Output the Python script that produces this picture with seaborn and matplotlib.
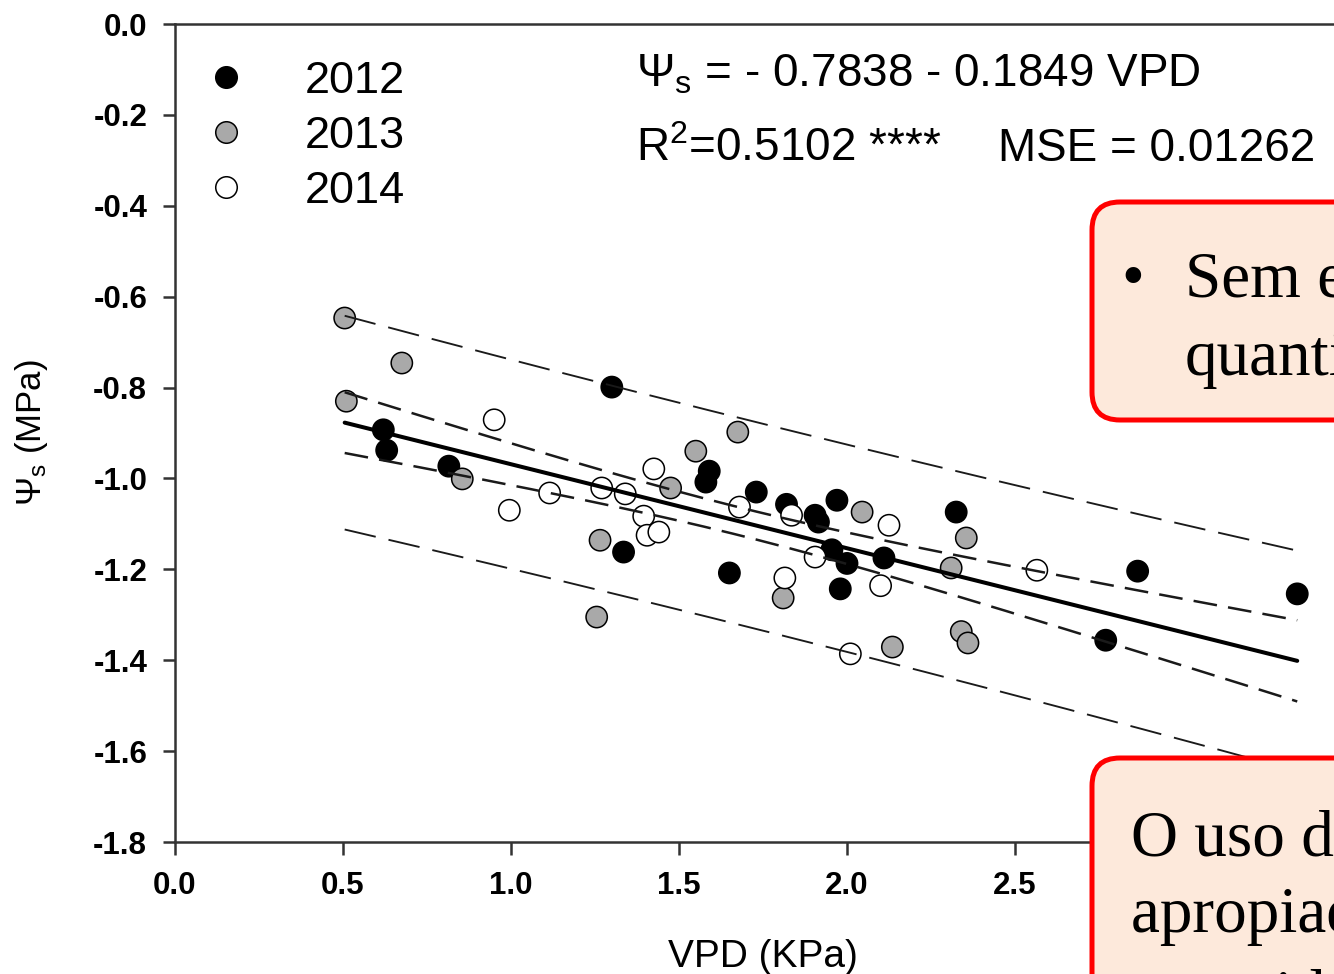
import numpy as np
import pandas as pd
import seaborn as sns
import matplotlib
matplotlib.use("Agg")
import matplotlib.pyplot as plt
from matplotlib.patches import FancyBboxPatch
from matplotlib.lines import Line2D

# Solute potential (MPa) versus vapour pressure deficit (KPa), by year
vpd_2012 = [0.62, 0.63, 0.815, 1.30, 1.335, 1.59, 1.58, 1.65, 1.73, 1.82, 1.97,
            1.905, 1.915, 1.955, 1.98, 2.00, 2.11, 2.325, 2.77, 2.865, 3.34]
psi_2012 = [-0.893, -0.938, -0.973, -0.799, -1.162, -0.984, -1.008, -1.208, -1.030,
            -1.057, -1.048, -1.081, -1.096, -1.157, -1.243, -1.187, -1.175, -1.074,
            -1.356, -1.204, -1.254]

vpd_2013 = [0.505, 0.675, 0.51, 0.855, 1.265, 1.255, 1.55, 1.475, 1.675, 1.81,
            2.045, 2.135, 2.31, 2.355, 2.34, 2.36]
psi_2013 = [-0.647, -0.746, -0.830, -1.001, -1.136, -1.305, -0.940, -1.021, -0.898,
            -1.263, -1.074, -1.371, -1.197, -1.131, -1.337, -1.362]

vpd_2014 = [0.95, 0.995, 1.115, 1.27, 1.34, 1.395, 1.425, 1.405, 1.44, 1.68, 1.835,
            1.815, 1.905, 2.01, 2.10, 2.125, 2.565]
psi_2014 = [-0.871, -1.070, -1.032, -1.021, -1.034, -1.083, -0.979, -1.125, -1.118,
            -1.063, -1.081, -1.219, -1.173, -1.386, -1.236, -1.103, -1.202]

years = ["2012", "2013", "2014"]
year_colors = {"2012": "#000000", "2013": "#a9a9a9", "2014": "#ffffff"}

# Fitted model reported on the chart
intercept = -0.7838
slope = -0.1849
r_squared = 0.5102
mse = 0.01262
t_crit = 2.007  # two-sided 95 %, 52 df

x_ticks = [0.0, 0.5, 1.0, 1.5, 2.0, 2.5, 3.0, 3.5]
y_ticks = [0.0, -0.2, -0.4, -0.6, -0.8, -1.0, -1.2, -1.4, -1.6, -1.8]

df = pd.concat([
    pd.DataFrame({"VPD": vpd_2012, "Psi": psi_2012, "Year": "2012"}),
    pd.DataFrame({"VPD": vpd_2013, "Psi": psi_2013, "Year": "2013"}),
    pd.DataFrame({"VPD": vpd_2014, "Psi": psi_2014, "Year": "2014"}),
], ignore_index=True)

# Regression line with 95 % confidence and prediction bands
x_all = df["VPD"].to_numpy()
n = len(x_all)
x_bar = x_all.mean()
sxx = ((x_all - x_bar) ** 2).sum()
xs = np.linspace(x_all.min(), x_all.max(), 200)
y_fit = intercept + slope * xs
se_mean = np.sqrt(mse * (1.0 / n + (xs - x_bar) ** 2 / sxx))
se_pred = np.sqrt(mse + se_mean ** 2)
ci_lo, ci_hi = y_fit - t_crit * se_mean, y_fit + t_crit * se_mean
pi_lo, pi_hi = y_fit - t_crit * se_pred, y_fit + t_crit * se_pred

sns.set_style("ticks")
plt.rcParams["font.family"] = ["Liberation Sans", "DejaVu Sans"]
plt.rcParams["mathtext.fontset"] = "custom"
plt.rcParams["mathtext.rm"] = "Liberation Sans"
plt.rcParams["mathtext.it"] = "Liberation Sans"
plt.rcParams["mathtext.bf"] = "Liberation Sans:bold"
plt.rcParams["axes.unicode_minus"] = False
plt.rcParams["text.color"] = "black"
plt.rcParams["axes.labelcolor"] = "black"
plt.rcParams["xtick.labelcolor"] = "black"
plt.rcParams["ytick.labelcolor"] = "black"

W, H = 1334, 974
fig = plt.figure(figsize=(W / 100, H / 100), dpi=100)
ax = fig.add_axes([175 / W, 1 - 842 / H, 1176 / W, 818 / H])

sns.scatterplot(data=df, x="VPD", y="Psi", hue="Year", palette=year_colors,
                hue_order=years, s=235, edgecolor="black", linewidth=1.1,
                legend=False, ax=ax, zorder=2)

band_color = "#1a1a1a"
for lo_hi in (pi_lo, pi_hi):
    sns.lineplot(x=xs, y=lo_hi, ax=ax, color=band_color, linewidth=1.35,
                 errorbar=None, sort=False, zorder=3)
    ax.lines[-1].set_dashes([17, 7])
for lo_hi in (ci_lo, ci_hi):
    sns.lineplot(x=xs, y=lo_hi, ax=ax, color=band_color, linewidth=1.8,
                 errorbar=None, sort=False, zorder=3)
    ax.lines[-1].set_dashes([9.5, 4.5])
sns.lineplot(x=xs, y=y_fit, ax=ax, color="black", linewidth=2.9,
             errorbar=None, sort=False, zorder=4)

ax.set_xlim(0, 3.5)
ax.set_ylim(-1.8, 0)
ax.set_xticks(x_ticks)
ax.set_yticks(y_ticks)
ax.set_xticklabels([f"{v:.1f}" for v in x_ticks])
ax.set_yticklabels([f"{v:.1f}" for v in y_ticks])
spine_color = "#333333"
for sp in ax.spines.values():
    sp.set_linewidth(1.8)
    sp.set_color(spine_color)
ax.tick_params(axis="both", direction="out", length=9, width=1.8,
               color=spine_color, labelsize=22.5, pad=11)
ax.tick_params(axis="x", pad=12)
for lbl in ax.get_xticklabels() + ax.get_yticklabels():
    lbl.set_fontweight("bold")

ax.set_xlabel("VPD (KPa)", fontsize=28, labelpad=27)
ax.set_ylabel(r"$\Psi_s$ (MPa)", fontsize=25, labelpad=31)

handles = [Line2D([], [], marker="o", linestyle="", markersize=15.5,
                  markerfacecolor=year_colors[y], markeredgecolor="black",
                  markeredgewidth=1.1) for y in years]
ax.legend(handles, years, loc="upper left", bbox_to_anchor=(0.024, 0.955),
          frameon=False, fontsize=32.5, handlelength=1.0, handletextpad=1.25,
          labelspacing=0.31, borderpad=0, borderaxespad=0)

fig.text(636 / W, 1 - 86 / H, r"$\Psi_s$ = - 0.7838 - 0.1849 VPD",
         fontsize=33, va="baseline", ha="left")
fig.text(636 / W, 1 - 161 / H, r"R$^2$=0.5102 ****",
         fontsize=33, va="baseline", ha="left")
fig.text(998 / W, 1 - 161 / H, "MSE = 0.01262",
         fontsize=33, va="baseline", ha="left")

# Callout boxes laid over the right-hand side
box_style = dict(boxstyle="round,pad=0,rounding_size=0.28", facecolor="#fde9db",
                 edgecolor="#ff0000", linewidth=3.6, transform=fig.dpi_scale_trans,
                 zorder=10, clip_on=False)
fig.add_artist(FancyBboxPatch((10.92, 5.54), 6.0, 2.18, **box_style))
fig.add_artist(FancyBboxPatch((10.92, -2.0), 6.0, 4.16, **box_style))

serif = dict(family=["Liberation Serif", "DejaVu Serif"], fontsize=47, color="black",
             va="baseline", transform=fig.dpi_scale_trans, zorder=11)
fig.text(11.33, 6.77, "\u2022", ha="center", **serif)
fig.text(11.85, 6.77, "Sem efeito da", ha="left", **serif)
fig.text(11.85, 5.99, "quantidade", ha="left", **serif)
fig.text(11.31, 1.18, "O uso da regressão", ha="left", **serif)
fig.text(11.31, 0.42, "apropiado para", ha="left", **serif)
fig.text(11.31, -0.41, "quantidade", ha="left", **serif)

fig.savefig("out.png", dpi=100)
